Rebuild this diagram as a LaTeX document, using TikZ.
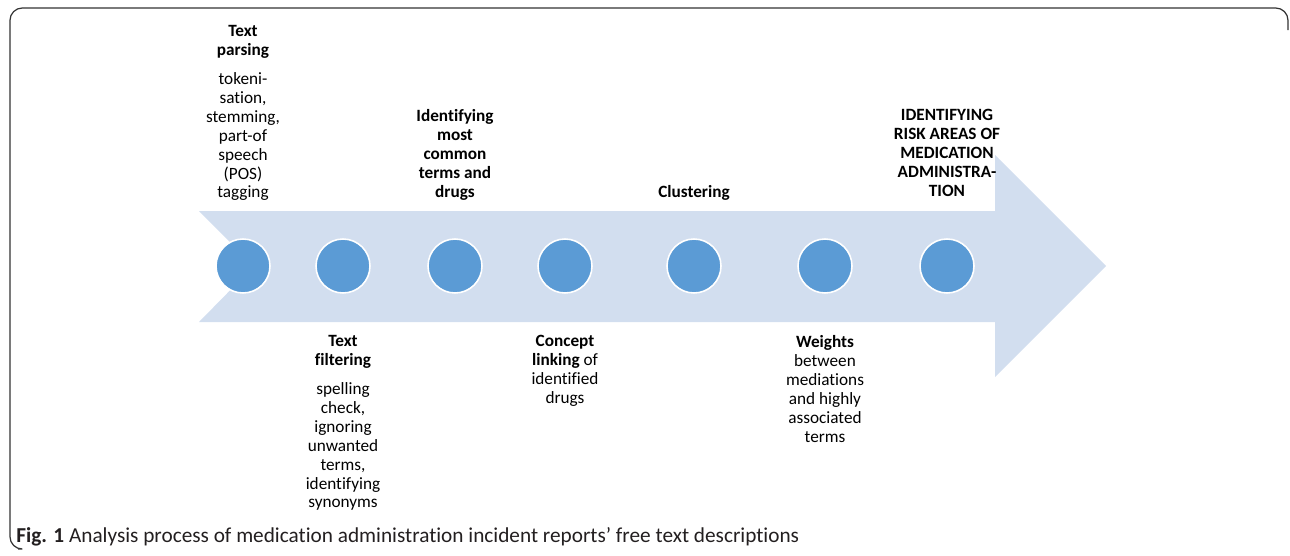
\documentclass[tikz,border=0pt]{standalone}
\usepackage{xcolor}
\usepackage{fontspec}
\setmainfont[Ligatures=NoCommon]{Carlito}
\usepackage{tikz}
\usetikzlibrary{positioning}

\definecolor{bandblue}{HTML}{D2DEEF}
\definecolor{dotblue}{HTML}{5B9BD5}
\definecolor{inkgray}{HTML}{231F20}

\begin{document}
\begin{tikzpicture}[x=0.02cm,y=-0.02cm]

\tikzstyle{stage}=[draw=white,fill=dotblue,circle,line width=0.9pt,minimum size=1.08cm,inner sep=0pt]
\tikzstyle{note}=[align=center,inner sep=0pt,font=\fontsize{9.8}{10.8}\selectfont]
\tikzset{frame/.style={draw=black!80,line width=0.7pt,rounded corners=7pt}}

\useasboundingbox (0,0) rectangle (1290,555);

% outer frame, open at the bottom and on the right
\draw[frame] (18,549) -| (10,8) -| (1288,30);

% the big process arrow
\fill[bandblue] (199,211) -- (995,211) -- (995,155) -- (1106,266)
  -- (995,377) -- (995,322) -- (199,322) -- (254,266) -- cycle;

% stages along the arrow
\foreach \x [count=\i] in {243,343,455,565,694,825,947}
  \node[stage] (s\i) at (\x,266) {};

% labels above the arrow
\node[note,anchor=north] (parse) at (243,25)
  {\textbf{Text}\\\textbf{parsing}\\[5.5pt]tokeni-\\sation,\\stemming,\\part-of\\speech\\(POS)\\tagging};
\node[note,anchor=north] (common) at (455,109)
  {\textbf{Identifying}\\\textbf{most}\\\textbf{common}\\\textbf{terms and}\\\textbf{drugs}};
\node[note,anchor=north] (cluster) at (694,185) {\textbf{Clustering}};
\node[note,anchor=north] (risk) at (947,109)
  {\textbf{IDENTIFYING}\\\textbf{RISK AREAS OF}\\\textbf{MEDICATION}\\\textbf{ADMINISTRA-}\\\textbf{TION}};

% labels below the arrow
\node[note,anchor=north] (filter) at (343,335)
  {\textbf{Text}\\\textbf{filtering}\\[5.5pt]spelling\\check,\\ignoring\\unwanted\\terms,\\identifying\\synonyms};
\node[note,anchor=north] (link) at (565,335)
  {\textbf{Concept}\\\textbf{linking} of\\identified\\drugs};
\node[note,anchor=north] (weight) at (825,335)
  {\textbf{Weights}\\between\\mediations\\and highly\\associated\\terms};

% caption
\node[anchor=base west,inner sep=0pt,text=inkgray,font=\fontsize{12.1}{14}\selectfont] (cap) at (16,542)
  {\textbf{Fig. 1} Analysis process of medication administration incident reports’ free text descriptions};

\end{tikzpicture}
\end{document}
